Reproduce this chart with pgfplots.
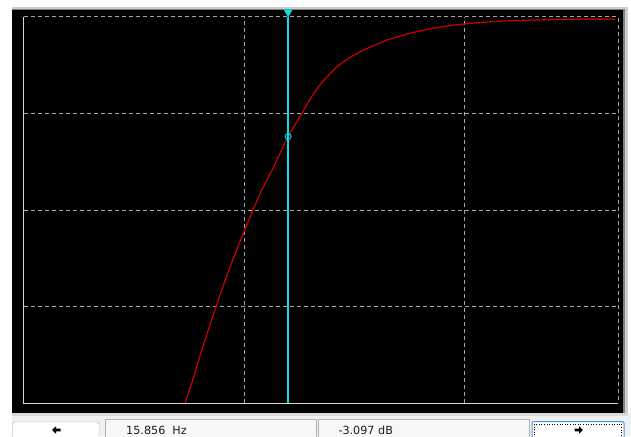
\documentclass[border=0pt]{standalone}
\usepackage{pgfplots}
\pgfplotsset{compat=1.18}
\usepackage{fontspec}
\setmainfont{DejaVu Sans}

\definecolor{gridc}{RGB}{165,165,165}
\definecolor{edgec}{RGB}{215,215,215}
\definecolor{trace}{RGB}{205,0,0}
\definecolor{cursorc}{RGB}{0,225,235}
\definecolor{barbg}{RGB}{240,240,240}
\definecolor{btnedge}{RGB}{173,173,173}
\definecolor{focusc}{RGB}{70,150,225}

\begin{document}
\begin{tikzpicture}
% window frame and status bar (pixel units, y downwards)
\begin{scope}[x=1pt,y=-1pt]
\useasboundingbox (0,0) rectangle (631,436);
\fill[white] (0,0) rectangle (631,436);
\fill[barbg] (12,413) rectangle (631,436);
\fill[black!20] (12,7) rectangle (628,9);
\fill[black!50] (12,9) rectangle (626,11);
\fill[black!20] (625,7) rectangle (628,416);
\fill[black!50] (623,9) rectangle (625,413);
\fill[black] (12,10) rectangle (623,413);
\fill[black!15] (12,413) rectangle (628,415.5);
% left button
\draw[btnedge, fill=white, rounded corners=2pt] (12.5,422) rectangle (99,446);
\fill[black] (52,430) -- (56,426.3) -- (56,428.6) -- (60.5,428.6) -- (60.5,431.4) -- (56,431.4) -- (56,433.7) -- cycle;
% read-out fields
\fill[black!3] (105.5,419.5) rectangle (316.5,446);
\draw[black!30] (105.5,446) -- (105.5,419.5) -- (316.5,419.5) -- (316.5,446);
\fill[black!3] (318.5,419.5) rectangle (529,446);
\draw[black!30] (318.5,446) -- (318.5,419.5) -- (529,419.5) -- (529,446);
\node[anchor=base west, inner sep=0pt, font=\fontsize{11.2}{13}\selectfont, text=black!88] at (126,434.6) {15.856\ \ Hz};
\node[anchor=base west, inner sep=0pt, font=\fontsize{11.2}{13}\selectfont, text=black!88] at (338.3,434.6) {-3.097 dB};
% right button (focused)
\draw[focusc, line width=1pt, fill=white, rounded corners=2pt] (532,421.5) rectangle (624,446);
\draw[black, dotted, line width=0.6pt] (534.5,424) rectangle (621.5,446);
\fill[black] (583,430) -- (579,426.3) -- (579,428.6) -- (574.5,428.6) -- (574.5,431.4) -- (579,431.4) -- (579,433.7) -- cycle;
\end{scope}

\begin{axis}[
  at={(24pt,-403pt)}, anchor=south west,
  scale only axis, width=594pt, height=386pt,
  xmode=log, xmin=1, xmax=500, ymin=-10, ymax=0,
  xtick={10,100}, ytick={-7.5,-5,-2.5},
  xminorticks=false,
  xticklabels={}, yticklabels={},
  axis line style={draw=none},
  tick style={draw=none},
  grid=major,
  major grid style={gridc, line width=1pt, dash pattern=on 4pt off 3pt},
  clip=false,
]
\draw[gridc, line width=1pt, dash pattern=on 4pt off 3pt]
  (rel axis cs:0,1) -- (rel axis cs:1,1) -- (rel axis cs:1,0);
\draw[edgec, line width=1pt]
  (rel axis cs:0,1) -- (rel axis cs:0,0) -- (rel axis cs:1,0);

% magnitude trace (Hz, dB)
\addplot[trace, line width=1.2pt, smooth, tension=0.5] coordinates {
  (5.394,-10.0) (5.846,-9.40) (6.424,-8.63) (7.46,-7.50) (8.64,-6.47)
  (9.93,-5.60) (10.84,-5.08) (12.0,-4.50) (13.69,-3.86) (15.856,-3.097)
  (18.30,-2.50) (19.95,-2.13) (22.55,-1.70) (26.83,-1.26) (31.96,-0.97)
  (36.73,-0.80) (44.54,-0.60) (56.82,-0.42) (72.54,-0.29) (92.65,-0.20)
  (120.4,-0.14) (156.3,-0.10) (240.0,-0.07) (319.6,-0.06) (485.8,-0.06)
};

% cursor
\addplot[cursorc, line width=1.6pt] coordinates {(15.856,0) (15.856,-10)};
\addplot[cursorc, only marks, mark=o, mark size=3pt, mark options={line width=0.9pt}]
  coordinates {(15.856,-3.097)};
\addplot[cursorc, only marks, mark=triangle*, mark size=4.5pt,
  mark options={yshift=4.75pt, rotate=180}] coordinates {(15.856,0)};
\end{axis}
\end{tikzpicture}
\end{document}
